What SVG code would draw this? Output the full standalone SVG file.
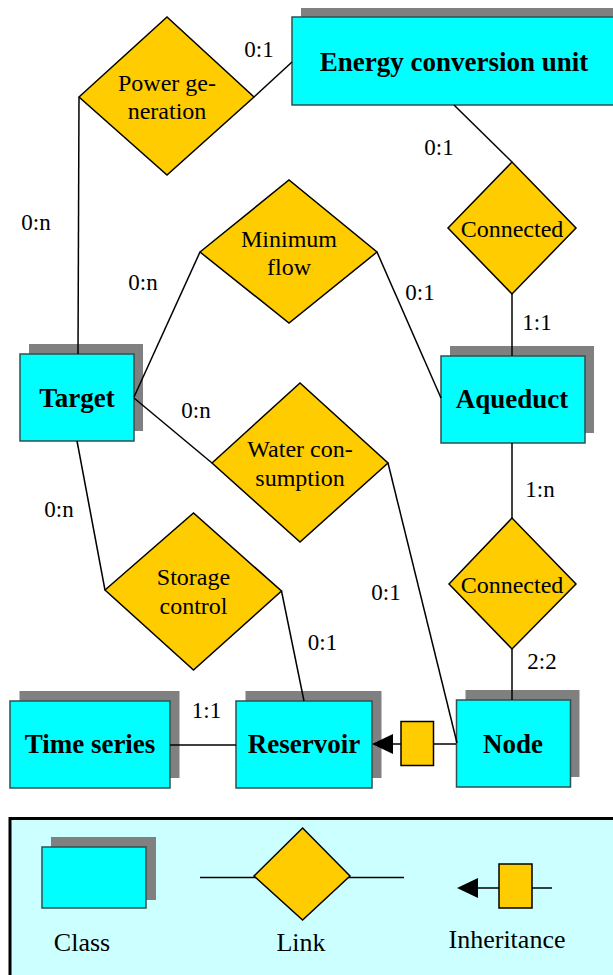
<svg xmlns="http://www.w3.org/2000/svg" width="613" height="975" viewBox="0 0 613 975">
  <style>
    .shadow { fill: #808080; }
    .cls { fill: #00FFFF; stroke: #2F5050; stroke-width: 1.5; }
    .link { fill: #FFCC00; stroke: #000; stroke-width: 1.5; }
    .inh { fill: #FFCC00; stroke: #000; stroke-width: 1.5; }
    .conn { stroke: #000; stroke-width: 1.5; fill: none; }
    .head { fill: #000; }
    text { font-family: "Liberation Serif", "Times New Roman", serif; fill: #000; text-anchor: middle; }
    .cname { font-size: 27px; font-weight: bold; }
    .lname { font-size: 24px; }
    .card { font-size: 23px; }
    .legend-label { font-size: 26px; }
  </style>

  <!-- classes -->
  <g id="energy-conversion-unit">
    <rect class="shadow" x="301" y="8" width="330" height="88"/>
    <rect class="cls" x="292" y="17" width="330" height="88"/>
    <text class="cname" x="454" y="71">Energy conversion unit</text>
  </g>
  <g id="target">
    <rect class="shadow" x="29" y="344" width="114" height="87"/>
    <rect class="cls" x="20" y="354" width="114" height="87"/>
    <text class="cname" x="77" y="407">Target</text>
  </g>
  <g id="aqueduct">
    <rect class="shadow" x="450" y="346" width="144" height="87"/>
    <rect class="cls" x="441" y="356" width="144" height="87"/>
    <text class="cname" x="512" y="408">Aqueduct</text>
  </g>
  <g id="time-series">
    <rect class="shadow" x="19.5" y="691" width="160" height="87"/>
    <rect class="cls" x="10" y="701" width="160" height="87"/>
    <text class="cname" x="90" y="753">Time series</text>
  </g>
  <g id="reservoir">
    <rect class="shadow" x="245.5" y="691" width="136" height="87"/>
    <rect class="cls" x="236" y="701" width="136" height="87"/>
    <text class="cname" x="304" y="753">Reservoir</text>
  </g>
  <g id="node">
    <rect class="shadow" x="465.5" y="690" width="114" height="87"/>
    <rect class="cls" x="456.5" y="700" width="114" height="87"/>
    <text class="cname" x="513" y="753">Node</text>
  </g>

  <!-- connectors -->
  <g id="connectors">
    <line class="conn" x1="254" y1="97" x2="292" y2="62"/>
    <line class="conn" x1="79" y1="97" x2="78" y2="354"/>
    <line class="conn" x1="454" y1="105" x2="512" y2="162"/>
    <line class="conn" x1="512" y1="294" x2="512" y2="356"/>
    <line class="conn" x1="200" y1="252" x2="134" y2="397"/>
    <line class="conn" x1="377" y1="252" x2="441" y2="398"/>
    <line class="conn" x1="134" y1="398" x2="212" y2="463"/>
    <line class="conn" x1="388" y1="463" x2="457" y2="743"/>
    <line class="conn" x1="77" y1="441" x2="105" y2="590"/>
    <line class="conn" x1="281.5" y1="591" x2="304" y2="701"/>
    <line class="conn" x1="512" y1="443" x2="512" y2="518"/>
    <line class="conn" x1="512" y1="649" x2="512" y2="700"/>
    <line class="conn" x1="170" y1="745" x2="236" y2="745"/>
    <!-- inheritance: Node to Reservoir -->
    <line class="conn" x1="456" y1="744" x2="433" y2="744"/>
    <line class="conn" x1="401" y1="744" x2="390" y2="744"/>
    <polygon class="head" points="372,744 393,734 393,754"/>
    <rect class="inh" x="401" y="721.5" width="32.5" height="44"/>
  </g>

  <!-- cardinalities -->
  <g id="cardinalities">
    <text class="card" x="259" y="57">0:1</text>
    <text class="card" x="36" y="230">0:n</text>
    <text class="card" x="439" y="155">0:1</text>
    <text class="card" x="537" y="330">1:1</text>
    <text class="card" x="143" y="290">0:n</text>
    <text class="card" x="420" y="300">0:1</text>
    <text class="card" x="196" y="418">0:n</text>
    <text class="card" x="59" y="517">0:n</text>
    <text class="card" x="540" y="497">1:n</text>
    <text class="card" x="386" y="600">0:1</text>
    <text class="card" x="322.5" y="650">0:1</text>
    <text class="card" x="542" y="669">2:2</text>
    <text class="card" x="206.5" y="718">1:1</text>
  </g>

  <!-- links -->
  <g id="power-generation">
    <polygon class="link" points="79,97 167,17 254,97 167,175"/>
    <text class="lname" x="167" y="91">Power ge-</text>
    <text class="lname" x="167" y="119">neration</text>
  </g>
  <g id="minimum-flow">
    <polygon class="link" points="200,252 289,180 377,252 289,323"/>
    <text class="lname" x="289" y="247">Minimum</text>
    <text class="lname" x="289" y="275">flow</text>
  </g>
  <g id="connected-1">
    <polygon class="link" points="448,228 512,162 576,228 512,294"/>
    <text class="lname" x="512" y="237">Connected</text>
  </g>
  <g id="water-consumption">
    <polygon class="link" points="212,463 300,383 388,463 300,542"/>
    <text class="lname" x="300" y="457">Water con-</text>
    <text class="lname" x="300" y="486">sumption</text>
  </g>
  <g id="storage-control">
    <polygon class="link" points="105,590 193.5,513 281.5,591 193.5,670"/>
    <text class="lname" x="193.5" y="585">Storage</text>
    <text class="lname" x="193.5" y="614">control</text>
  </g>
  <g id="connected-2">
    <polygon class="link" points="449,584 512,518 576,584 512,649"/>
    <text class="lname" x="512" y="593">Connected</text>
  </g>

  <!-- legend -->
  <g id="legend">
    <rect x="10" y="818.5" width="620" height="200" fill="#CCFFFF" stroke="#000" stroke-width="3"/>
    <rect class="shadow" x="51" y="837" width="105" height="63"/>
    <rect class="cls" x="42" y="847" width="104" height="61"/>
    <line class="conn" x1="200" y1="877.5" x2="404" y2="877.5"/>
    <polygon class="link" points="254,876 302.6,828 350,876 302.6,920"/>
    <line class="conn" x1="476" y1="888" x2="499" y2="888"/>
    <polygon class="head" points="457,888 478,878 478,898"/>
    <rect class="inh" x="499" y="864" width="33" height="44"/>
    <line class="conn" x1="532" y1="888" x2="552" y2="888"/>
    <text class="legend-label" x="82" y="951">Class</text>
    <text class="legend-label" x="301" y="951">Link</text>
    <text class="legend-label" x="507" y="948">Inheritance</text>
  </g>
</svg>
